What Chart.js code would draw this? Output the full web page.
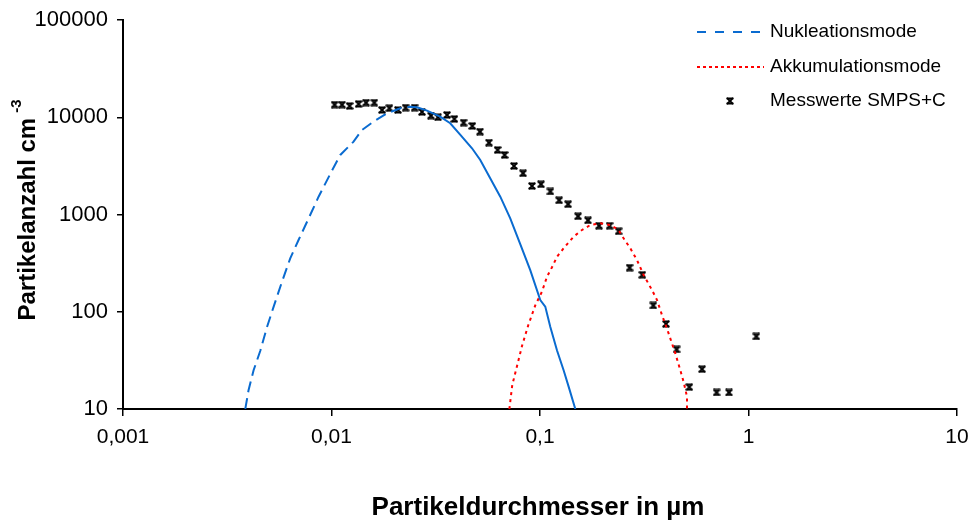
<!DOCTYPE html>
<html>
<head>
<meta charset="utf-8">
<script src="https://cdn.jsdelivr.net/npm/chart.js@4.4.1/dist/chart.umd.min.js"></script>
<style>
  html, body { margin: 0; padding: 0; background: #ffffff; }
  #wrap { width: 973px; height: 523px; position: relative; }
</style>
</head>
<body>
<div id="wrap"><canvas id="chart" width="973" height="523"></canvas></div>
<script>
// Partikelgrößenverteilung: Nukleations- und Akkumulationsmode, Messwerte SMPS+C

const nukDiameter = [0.00386, 0.00400, 0.00423, 0.00456, 0.00491, 0.00528, 0.00579, 0.00634, 0.00695, 0.00777,
  0.00867, 0.01006, 0.01102, 0.01276, 0.0140, 0.0159, 0.0185, 0.0214, 0.0239, 0.0257,
  0.0287, 0.0332, 0.0371, 0.0415, 0.0472, 0.0517, 0.0577, 0.0645, 0.0720, 0.0804,
  0.0898, 0.1003, 0.106, 0.112, 0.1207, 0.1298, 0.1372, 0.1477];
const nukCount = [10, 15.6, 25, 40, 70, 113, 204, 354, 547, 914,
  1524, 2836, 4094, 5610, 7400, 9010, 11000, 12380, 12850, 12670,
  11690, 10140, 8680, 6575, 4800, 3640, 2360, 1524, 914, 497,
  268, 132, 113, 70, 40, 25, 17, 10];

const akkDiameter = [0.0713, 0.0736, 0.0778, 0.0822, 0.0879, 0.0950, 0.1022, 0.108, 0.114, 0.1207,
  0.1298, 0.1449, 0.159, 0.1743, 0.1946, 0.2174, 0.2382, 0.2518, 0.2711, 0.2919,
  0.314, 0.3445, 0.3641, 0.3847, 0.4138, 0.4456, 0.4709, 0.4884, 0.507, 0.507];
const akkCount = [10, 17.6, 28.3, 45.4, 73, 117, 161, 229, 285, 368,
  449, 591, 693, 780, 812, 780, 693, 569, 449, 340,
  239, 167, 132, 92.5, 60, 37.3, 25.1, 19, 13.4, 10];

const messDiameter = [0.01035, 0.01123, 0.01221, 0.01349, 0.01464, 0.01604, 0.01747, 0.01894, 0.02084, 0.02266,
  0.02504, 0.02716, 0.0300, 0.03241, 0.03581, 0.03882, 0.04302, 0.04735, 0.05154, 0.05692,
  0.0626, 0.06763, 0.07504, 0.08289, 0.09154, 0.1011, 0.1121, 0.1235, 0.1364, 0.1522,
  0.1699, 0.1919, 0.2157, 0.2382, 0.269, 0.3095, 0.3495, 0.402, 0.4521, 0.52,
  0.5984, 0.7031, 0.8062, 1.09];
const messCount = [13480, 13480, 13070, 13705, 14135, 14135, 11885, 12377, 11885, 12555,
  12555, 11335, 10387, 10000, 10560, 9605, 8799, 8137, 7111, 5479,
  4609, 4094, 3155, 2654, 1965, 2045, 1724, 1400, 1276, 958,
  871, 767, 767, 672, 284, 240, 116, 75, 41, 16.8,
  25.7, 14.8, 14.8, 55.8];

const xTickValues = [0.001, 0.01, 0.1, 1, 10];
const xTickLabels = ['0,001', '0,01', '0,1', '1', '10'];
const yTickValues = [10, 100, 1000, 10000, 100000];
const yTickLabels = ['10', '100', '1000', '10000', '100000'];

const seriesNames = ['Nukleationsmode', 'Akkumulationsmode', 'Messwerte SMPS+C'];
const xTitle = 'Partikeldurchmesser in µm';
const yTitle = 'Partikelanzahl cm';
const yTitleSup = '-3';

const FONT = "'Liberation Sans', Arial, sans-serif";
const BLUE = '#0A6BD0';
const RED = '#FF0000';
const NUK_DASH_END = 0.024; // left flank dashed, right flank solid

function toPoints(xs, ys) { return xs.map((x, i) => ({ x: x, y: ys[i] })); }

// small "x"-shaped marker with bars top and bottom
function makeMarker() {
  const c = document.createElement('canvas');
  c.width = 8; c.height = 8;
  const g = c.getContext('2d');
  g.strokeStyle = '#000'; g.fillStyle = '#000'; g.lineWidth = 1.8;
  g.beginPath();
  g.moveTo(1, 1); g.lineTo(7, 7);
  g.moveTo(7, 1); g.lineTo(1, 7);
  g.stroke();
  g.fillRect(0.5, 0.5, 7, 1.8);
  g.fillRect(0.5, 5.7, 7, 1.8);
  return c;
}
const marker = makeMarker();

const titlesAndLegend = {
  id: 'titlesAndLegend',
  afterDraw(chart) {
    const ctx = chart.ctx;
    ctx.save();
    ctx.fillStyle = '#000';
    // x axis title
    ctx.font = 'bold 26px ' + FONT;
    ctx.textAlign = 'center';
    ctx.textBaseline = 'middle';
    ctx.fillText(xTitle, 538, 508);
    // y axis title, rotated, with superscript
    ctx.translate(28, 210);
    ctx.rotate(-Math.PI / 2);
    ctx.font = 'bold 24px ' + FONT;
    const w1 = ctx.measureText(yTitle).width;
    ctx.font = 'bold 15px ' + FONT;
    const w2 = ctx.measureText(yTitleSup).width;
    const start = -(w1 + 5 + w2) / 2;
    ctx.textAlign = 'left';
    ctx.font = 'bold 24px ' + FONT;
    ctx.fillText(yTitle, start, 0);
    ctx.font = 'bold 15px ' + FONT;
    ctx.fillText(yTitleSup, start + w1 + 5, -11);
    ctx.restore();

    // legend
    ctx.save();
    const rows = [32, 67, 101];
    ctx.font = '19px ' + FONT;
    ctx.textAlign = 'left';
    ctx.textBaseline = 'middle';
    chart.data.datasets.forEach((ds, i) => {
      const y = rows[i];
      if (i < 2) {
        ctx.beginPath();
        ctx.strokeStyle = ds.borderColor;
        ctx.lineWidth = 2;
        ctx.setLineDash(i === 0 ? [9, 9] : [3, 3]);
        ctx.moveTo(697, y);
        ctx.lineTo(764, y);
        ctx.stroke();
        ctx.setLineDash([]);
      } else {
        ctx.drawImage(marker, 726, y - 4);
      }
      ctx.fillStyle = '#000';
      ctx.fillText(ds.label, 770, y);
    });
    ctx.restore();
  }
};

new Chart(document.getElementById('chart'), {
  type: 'scatter',
  data: {
    datasets: [
      {
        label: seriesNames[0],
        data: toPoints(nukDiameter, nukCount),
        showLine: true,
        borderColor: BLUE,
        borderWidth: 2,
        pointRadius: 0,
        fill: false,
        segment: {
          borderDash: c => (c.p0.parsed.x < NUK_DASH_END ? [11, 6] : [])
        }
      },
      {
        label: seriesNames[1],
        data: toPoints(akkDiameter, akkCount),
        showLine: true,
        borderColor: RED,
        borderWidth: 2,
        borderDash: [3, 4],
        pointRadius: 0,
        fill: false
      },
      {
        label: seriesNames[2],
        data: toPoints(messDiameter, messCount),
        showLine: false,
        pointStyle: marker,
        pointRadius: 4,
        borderColor: '#000',
        backgroundColor: '#000'
      }
    ]
  },
  options: {
    responsive: false,
    animation: false,
    devicePixelRatio: 1,
    layout: { padding: { left: 0, top: 20, right: 16, bottom: 0 } },
    plugins: {
      legend: { display: false },
      tooltip: { enabled: false }
    },
    scales: {
      x: {
        type: 'logarithmic',
        min: 0.001,
        max: 10,
        afterBuildTicks: s => { s.ticks = xTickValues.map(v => ({ value: v })); },
        afterFit: s => { s.height = 114; s.paddingLeft = 0; s.paddingRight = 0; },
        ticks: {
          autoSkip: false,
          maxRotation: 0,
          padding: 9,
          color: '#000',
          font: { family: FONT, size: 21 },
          callback: v => { const i = xTickValues.indexOf(v); return i >= 0 ? xTickLabels[i] : ''; }
        },
        grid: { drawOnChartArea: false, drawTicks: true, tickLength: 7, color: '#000', lineWidth: 1.5 },
        border: { color: '#000', width: 2 }
      },
      y: {
        type: 'logarithmic',
        min: 10,
        max: 100000,
        afterBuildTicks: s => { s.ticks = yTickValues.map(v => ({ value: v })); },
        afterFit: s => { s.width = 123; s.paddingTop = 0; s.paddingBottom = 0; },
        ticks: {
          autoSkip: false,
          padding: 9,
          color: '#000',
          font: { family: FONT, size: 22 },
          callback: v => { const i = yTickValues.indexOf(v); return i >= 0 ? yTickLabels[i] : ''; }
        },
        grid: { drawOnChartArea: false, drawTicks: true, tickLength: 6, color: '#000', lineWidth: 1.5 },
        border: { color: '#000', width: 2 }
      }
    }
  },
  plugins: [titlesAndLegend]
});
</script>
</body>
</html>
